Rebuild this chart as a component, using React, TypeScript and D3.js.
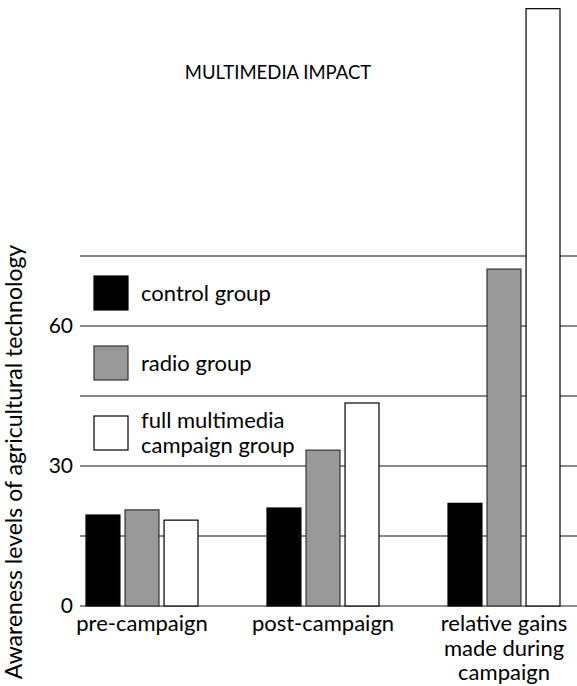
import React from "react";
import * as d3 from "d3";

const categories = ["pre-campaign", "post-campaign", "relative gains|made during|campaign"];
const groups = ["control group", "radio group", "full multimedia|campaign group"];
const control = [19.5, 21, 22];
const radio = [20.6, 33.4, 72.2];
const fullMedia = [18.4, 43.5, 128];
const gridValues = [15, 30, 45, 60, 75];
const tickValues = [0, 30, 60];

const W = 577;
const H = 686;
const FONT = "Lato, 'Open Sans', sans-serif";

export default function App() {
  const left = 80;
  const right = W;

  const y = d3.scaleLinear().domain([0, 75]).range([606, 256]);
  const x = d3.scalePoint().domain(categories).range([142, 504]);
  const inner = d3.scaleBand().domain(groups).range([-56, 56]).paddingInner(0.13);

  const fills = ["#000000", "#999999", "#ffffff"];
  const strokes = ["#000000", "#333333", "#000000"];
  const series = [control, radio, fullMedia];

  const legendY = d3.scalePoint().domain(groups).range([293, 433]);

  return (
    <svg width={W} height={H} style={{ position: "absolute", left: 0, top: 0 }} fontFamily={FONT}>
      <rect width={W} height={H} fill="#fff" />
      <text x={278} y={79} fontSize={18.5} textAnchor="middle" fill="#000">MULTIMEDIA IMPACT</text>

      {gridValues.map(v => (
        <line key={v} x1={left} x2={right} y1={y(v)} y2={y(v)} stroke="#111" strokeWidth={1.2} />
      ))}
      <line x1={left} x2={right} y1={y(0)} y2={y(0)} stroke="#666" strokeWidth={1.5} />

      {tickValues.map(v => (
        <text key={v} x={73} y={y(v)} dy="0.35em" fontSize={21} textAnchor="end" fill="#000">{v}</text>
      ))}

      <text transform={`translate(22,462) rotate(-90)`} fontSize={23} textAnchor="middle" fill="#000">
        Awareness levels of agricultural technology
      </text>

      {groups.map((g, gi) => {
        const ly = legendY(g)!;
        const lines = g.split("|");
        return (
          <g key={g}>
            <rect x={94} y={ly - 17} width={34} height={34} fill={fills[gi]} stroke={strokes[gi]} strokeWidth={1.2} />
            {lines.map((t, li) => (
              <text key={t} x={141} y={ly + (li - (lines.length - 1) / 2) * 25} dy="0.35em" fontSize={22} fill="#000">{t}</text>
            ))}
          </g>
        );
      })}

      {categories.map((c, ci) => (
        <g key={c} transform={`translate(${x(c)},0)`}>
          {series.map((s, si) => (
            <rect
              key={si}
              x={inner(groups[si])!}
              y={y(s[ci])}
              width={inner.bandwidth()}
              height={y(0) - y(s[ci])}
              fill={fills[si]}
              stroke={strokes[si]}
              strokeWidth={1.2}
            />
          ))}
          {c.split("|").map((t, li) => (
            <text key={t} x={0} y={631 + li * 24.5} fontSize={22} textAnchor="middle" fill="#000">{t}</text>
          ))}
        </g>
      ))}
    </svg>
  );
}
